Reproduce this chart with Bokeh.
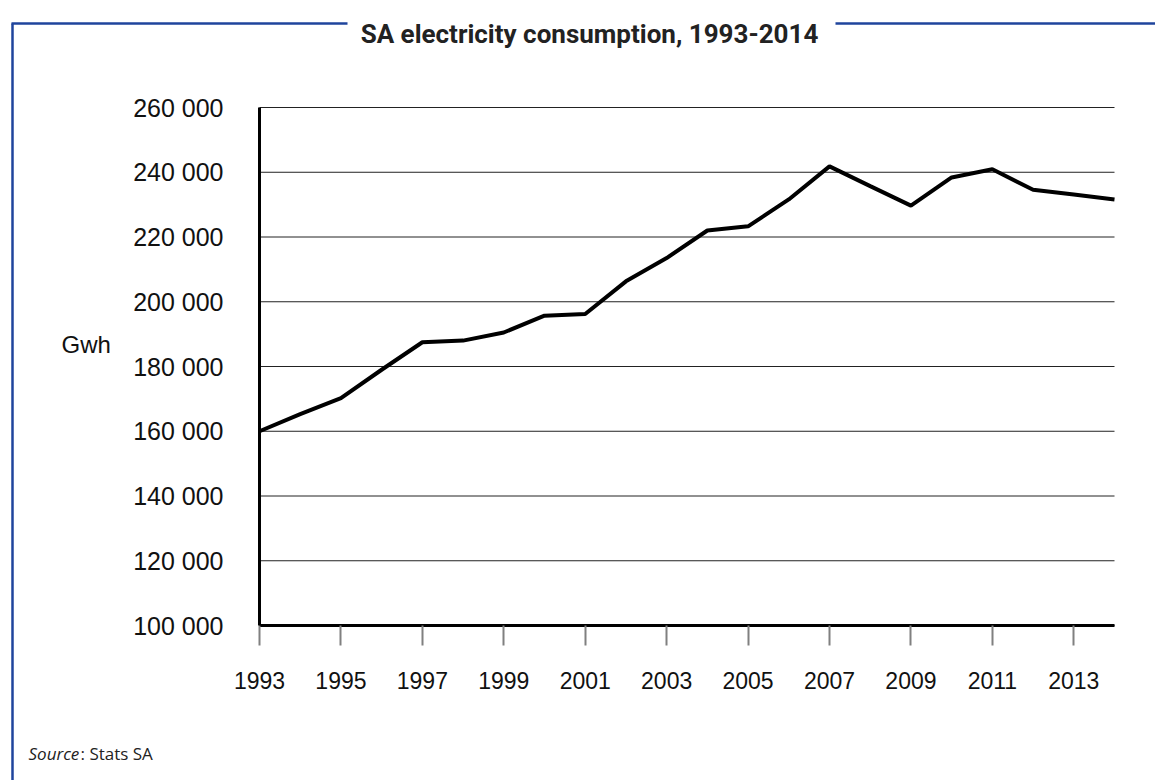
from bokeh.plotting import figure
from bokeh.models import Range1d, FixedTicker, Label, LinearAxis
from bokeh.embed import file_html
from bokeh.resources import INLINE

# ---- data ----
years = list(range(1993, 2015))
consumption = [160000, 165300, 170200, 179000, 187500, 188000, 190500, 195700,
               196200, 206300, 213500, 222000, 223300, 231600, 241800, 235700,
               229700, 238400, 240900, 234600, 233100, 231600]
x_ticks = [1993, 1995, 1997, 1999, 2001, 2003, 2005, 2007, 2009, 2011, 2013]
y_ticks = [100000, 120000, 140000, 160000, 180000, 200000, 220000, 240000, 260000]
y_tick_labels = ["100 000", "120 000", "140 000", "160 000", "180 000",
                 "200 000", "220 000", "240 000", "260 000"]
title_text = "SA electricity consumption, 1993-2014"
y_label_text = "Gwh"
source_italic = "Source"
source_rest = ": Stats SA"

# ---- layout (pixel geometry) ----
W, H = 1155, 780
PX_L, PX_R, PX_T, PX_B = 259, 1114, 107, 625   # chart area in pixels
X0, X1 = 1993, 2014
Y0, Y1 = 100000, 260000
BLUE = "#1f449c"

# figure frame = whole canvas; default ranges are pixel coordinates
p = figure(width=W, height=H, output_backend="svg", toolbar_location=None,
           x_range=Range1d(0, W), y_range=Range1d(H, 0),
           x_axis_type=None, y_axis_type=None, min_border=0)
p.outline_line_color = None
p.background_fill_color = "white"
p.border_fill_color = "white"

# data ranges, extended so that the chart area lands on the right pixels
xs = (X1 - X0) / (PX_R - PX_L)
ys = (Y1 - Y0) / (PX_B - PX_T)
p.extra_x_ranges = {"yrs": Range1d(X0 - PX_L * xs, X1 + (W - PX_R) * xs)}
p.extra_y_ranges = {"val": Range1d(Y0 - (H - PX_B) * ys, Y1 + PX_T * ys)}

# horizontal grid lines
p.segment(x0=[X0] * len(y_ticks), x1=[X1] * len(y_ticks), y0=y_ticks, y1=y_ticks,
          line_color="#222222", line_width=1, x_range_name="yrs", y_range_name="val")

# data line
p.line(years, consumption, line_color="black", line_width=4,
       x_range_name="yrs", y_range_name="val")

# axes
xaxis = LinearAxis(x_range_name="yrs", y_range_name="val", fixed_location=Y0,
                   bounds=(X0, X1), ticker=FixedTicker(ticks=x_ticks))
yaxis = LinearAxis(x_range_name="yrs", y_range_name="val", fixed_location=X0,
                   bounds=(Y0, Y1), ticker=FixedTicker(ticks=y_ticks))
yaxis.major_label_overrides = {t: s for t, s in zip(y_ticks, y_tick_labels)}
for ax in (xaxis, yaxis):
    ax.axis_line_color = "black"
    ax.axis_line_width = 3
    ax.minor_tick_line_color = None
    ax.major_label_text_font = "Liberation Sans"
    ax.major_label_text_color = "#111111"
xaxis.major_label_text_font_size = "23px"
yaxis.major_label_text_font_size = "25px"
xaxis.major_tick_line_color = "#808080"
xaxis.major_tick_line_width = 2
xaxis.major_tick_out = 20
xaxis.major_tick_in = 0
xaxis.major_label_standoff = 26
yaxis.major_tick_line_color = None
yaxis.major_tick_out = 0
yaxis.major_tick_in = 0
yaxis.major_label_standoff = 36
p.add_layout(xaxis, "below")
p.add_layout(yaxis, "left")

# frame decorations (blue lines), pixel coordinates
p.segment(x0=[11, 835, 12], x1=[347, W, 12], y0=[23, 23, 23], y1=[23, 23, H],
          line_color=BLUE, line_width=2.5)

# title
p.add_layout(Label(x=589, y=33, text=title_text, text_align="center",
                   text_baseline="alphabetic", text_font="Roboto",
                   text_font_style="bold", text_font_size="26px", text_color="#222222"))
# y label
p.add_layout(Label(x=61, y=344, text=y_label_text, text_align="left",
                   text_baseline="middle", text_font="Liberation Sans",
                   text_font_size="24px", text_color="#111111"))
# source
p.add_layout(Label(x=28, y=753, text=source_italic, text_align="left",
                   text_baseline="alphabetic", text_font="Open Sans",
                   text_font_style="italic", text_font_size="17px", text_color="#222222"))
p.add_layout(Label(x=80, y=753, text=source_rest, text_align="left",
                   text_baseline="alphabetic", text_font="Open Sans",
                   text_font_size="17px", text_color="#222222"))

open("out.html", "w").write(file_html(p, INLINE))
